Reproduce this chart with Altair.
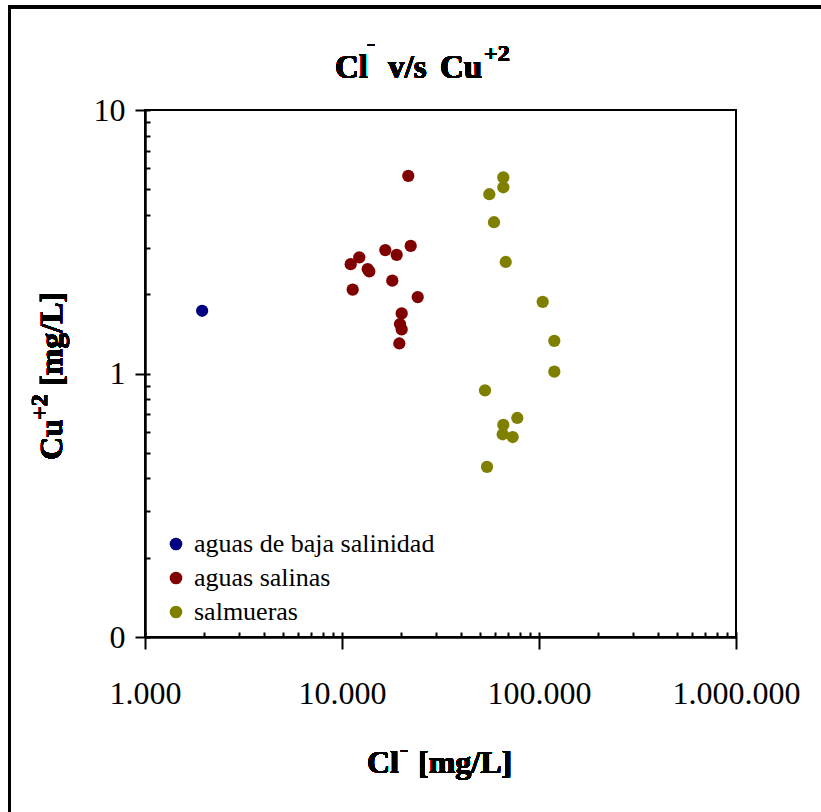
import altair as alt
import pandas as pd

# --- series -----------------------------------------------------------------
groups = ["aguas de baja salinidad", "aguas salinas", "salmueras"]
colors = ["#000080", "#800000", "#808000"]

baja_cl = [1950]
baja_cu = [1.73]

salinas_cl = [21700, 12240, 11070, 16590, 18950, 22320, 13500, 13760,
              11330, 18000, 24230, 20090, 19700, 20090, 19540]
salinas_cu = [5.62, 2.76, 2.60, 2.94, 2.82, 3.05, 2.49, 2.44,
              2.08, 2.25, 1.95, 1.69, 1.54, 1.47, 1.30]

salmueras_cl = [65900, 65900, 55950, 59100, 67760, 104400, 119600, 119600,
                53200, 77600, 65900, 65420, 73550, 54460]
salmueras_cu = [5.55, 5.09, 4.79, 3.75, 2.65, 1.87, 1.33, 1.016,
                0.863, 0.678, 0.638, 0.588, 0.574, 0.442]

# --- axis ticks ---------------------------------------------------------------
x_major = [1000, 10000, 100000, 1000000]
x_labels = ["1.000", "10.000", "100.000", "1.000.000"]
y_major = [0.1, 1, 10]
y_labels = ["0", "1", "10"]

x_minor = [m * 10 ** k for k in (3, 4, 5) for m in range(1, 10)] + [1000000]
y_minor = [m * 10 ** k for k in (-1, 0) for m in range(1, 10)] + [10]

# --- text pieces (superscripts are drawn as separate smaller pieces) ----------
title_text = ["Cl", "-", "v/s", "Cu", "+2"]
xtitle_text = ["Cl", "-", "[mg/L]"]
ytitle_text = ["Cu", "+2", "[mg/L]"]

rows = []
for g, xs, ys in zip(groups, [baja_cl, salinas_cl, salmueras_cl],
                     [baja_cu, salinas_cu, salmueras_cu]):
    for xv, yv in zip(xs, ys):
        rows.append({"grupo": g, "cl": xv, "cu": yv})
df = pd.DataFrame(rows)


def label_expr(values, labels):
    expr = "''"
    for v, lab in reversed(list(zip(values, labels))):
        expr = f"datum.value == {v} ? '{lab}' : ({expr})"
    return expr


FONT = "Liberation Serif"
W, H = 591, 527
LEFT, TOP = 145, 110

x_scale = alt.Scale(type="log", domain=[1000, 1000000], nice=False)
y_scale = alt.Scale(type="log", domain=[0.1, 10], nice=False)

points = alt.Chart(df).mark_circle(size=150, opacity=1).encode(
    x=alt.X("cl:Q", scale=x_scale, axis=alt.Axis(
        orient="bottom", values=x_major, labelExpr=label_expr(x_major, x_labels),
        tickSize=12, tickWidth=2, tickColor="black",
        domainColor="black", domainWidth=2.5,
        labelFont=FONT, labelFontSize=32, labelColor="black",
        labelPadding=29, labelFlush=False, labelOverlap=False,
        grid=False, title=None)),
    y=alt.Y("cu:Q", scale=y_scale, axis=alt.Axis(
        orient="left", values=y_major, labelExpr=label_expr(y_major, y_labels),
        tickSize=10, tickWidth=2, tickColor="black",
        domainColor="black", domainWidth=2.5,
        labelFont=FONT, labelFontSize=32, labelColor="black",
        labelPadding=10, labelFlush=False, labelOverlap=False,
        grid=False, title=None)),
    color=alt.Color("grupo:N", scale=alt.Scale(domain=groups, range=colors),
                    sort=groups,
                    legend=alt.Legend(
                        orient="none", legendX=18, legendY=421, title=None,
                        symbolType="circle", symbolSize=160, symbolStrokeWidth=0,
                        labelFont=FONT, labelFontSize=26, labelColor="black",
                        labelOffset=5, rowPadding=8, padding=0,
                        labelLimit=400)),
)

# inward-pointing minor ticks on both axes
inner_ticks = alt.Chart(df).mark_circle(opacity=0).encode(
    x=alt.X("cl:Q", scale=x_scale, axis=alt.Axis(
        orient="bottom", values=x_minor, offset=-5, tickSize=5, tickWidth=2,
        tickColor="black", domain=False, labels=False, grid=False, title=None)),
    y=alt.Y("cu:Q", scale=y_scale, axis=alt.Axis(
        orient="left", values=y_minor, offset=-5, tickSize=5, tickWidth=2,
        tickColor="black", domain=False, labels=False, grid=False, title=None)),
)


def piece(text, x, y, size, angle=0):
    return alt.Chart(df).mark_text(
        align="left", baseline="alphabetic", font=FONT, fontSize=size,
        fontWeight="bold", color="black", angle=angle,
    ).encode(x=alt.value(x - LEFT), y=alt.value(y - TOP), text=alt.value(text))


title_layers = [
    piece(title_text[0], 335, 78, 33),
    piece(title_text[1], 367, 51, 24),
    piece(title_text[2], 388, 78, 33),
    piece(title_text[3], 440, 78, 33),
    piece(title_text[4], 484, 61, 24),
]
xtitle_layers = [
    piece(xtitle_text[0], 367, 773, 32),
    piece(xtitle_text[1], 400, 757, 24),
    piece(xtitle_text[2], 418, 773, 32),
]
ytitle_layers = [
    piece(ytitle_text[0], 62, 460, 32, angle=270),
    piece(ytitle_text[1], 47, 420, 24, angle=270),
    piece(ytitle_text[2], 62, 386, 32, angle=270),
]

# outer frame around the whole figure
frame = alt.Chart(df).mark_rect(
    filled=False, stroke="black", strokeWidth=2.5
).encode(
    x=alt.value(9.5 - LEFT), x2=alt.value(900), y=alt.value(7 - TOP), y2=alt.value(900)
)

chart = alt.layer(
    frame, inner_ticks, points, *title_layers, *xtitle_layers, *ytitle_layers
).resolve_axis(x="independent", y="independent").properties(
    width=W, height=H,
    autosize=alt.AutoSizeParams(type="none"),
    padding={"left": LEFT, "top": TOP, "right": 821 - LEFT - W, "bottom": 812 - TOP - H},
    background="white",
).configure_view(stroke="black", strokeWidth=2)

chart.save("out.html", embed_options={"renderer": "svg", "actions": False})
